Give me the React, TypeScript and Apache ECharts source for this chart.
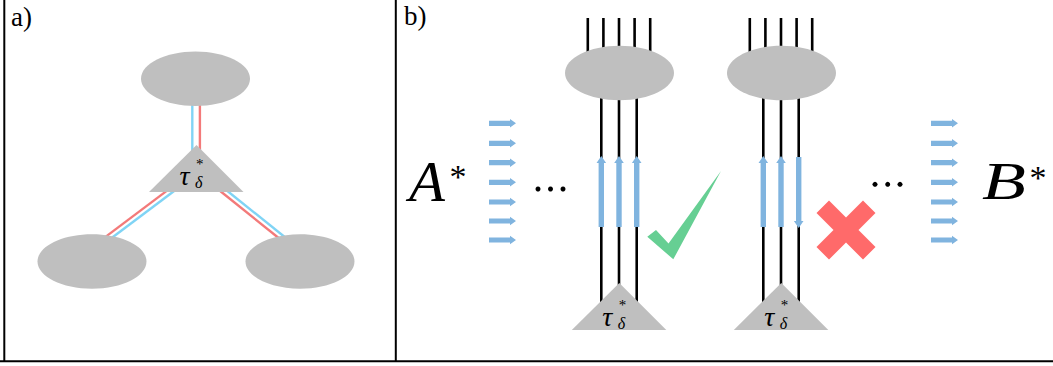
import React, { useEffect, useRef } from "react";
import * as echarts from "echarts";

// ---- diagram content ----
const panelLabels = ["a)", "b)"];
const sideLabels = ["A", "B"];
const columnArrowDirections = [
  ["up", "up", "up"],
  ["up", "up", "down"],
];
const columnVerdicts = ["valid", "invalid"];
const flowArrowRows = [0, 1, 2, 3, 4, 5, 6];
const topLegCount = 5;
const bottomLegCount = 3;

// ---- styles ----
const SERIF = '"Liberation Serif", "DejaVu Serif", serif';
const GREY = "#bfbfbf";
const ARROW = "#80b4df";
const EDGE_BLUE = "#80d4f5";
const EDGE_RED = "#f37a7a";
const CHECK = "#66cf93";
const CROSS = "#ff6a6a";

function txt(text: string, x: number, y: number, size: number, italic: boolean, sx = 1) {
  return {
    type: "text",
    z: 20,
    x,
    y,
    scaleX: sx,
    style: {
      text,
      x: 0,
      y: 0,
      fill: "#000",
      font: `${italic ? "italic " : ""}${size}px ${SERIF}`,
      fontSize: size,
      fontFamily: SERIF,
      fontStyle: italic ? "italic" : "normal",
      align: "left",
      verticalAlign: "middle",
      textAlign: "left",
      textVerticalAlign: "middle",
    },
  };
}

function line(x1: number, y1: number, x2: number, y2: number, stroke: string, w: number, z = 1) {
  return { type: "line", z, shape: { x1, y1, x2, y2 }, style: { stroke, lineWidth: w } };
}

function poly(points: number[][], fill: string, z = 5) {
  return { type: "polygon", z, shape: { points }, style: { fill } };
}

function ellipse(cx: number, cy: number) {
  return { type: "ellipse", z: 3, shape: { cx, cy, rx: 54.5, ry: 27.2 }, style: { fill: GREY } };
}

function triangle(ax: number, ay: number) {
  return poly(
    [
      [ax, ay],
      [ax + 47, ay + 47],
      [ax - 47.5, ay + 47],
    ],
    GREY,
    3
  );
}

// τ with superscript * and subscript δ
function tau(ax: number, ay: number, dy: number) {
  return [
    txt("τ", ax - 17, ay + 30 + dy, 28, true),
    txt("δ", ax - 1.5, ay + 37 + dy, 16, true),
    txt("*", ax - 0.5, ay + 18.5 + dy, 15, false),
  ];
}

function vArrow(x: number, dir: string) {
  const s = 2.7;
  const h = 4.8;
  if (dir === "up") {
    return poly(
      [
        [x - s, 227],
        [x - s, 163],
        [x - h, 163],
        [x, 156],
        [x + h, 163],
        [x + s, 163],
        [x + s, 227],
      ],
      ARROW,
      6
    );
  }
  return poly(
    [
      [x - s, 157],
      [x - s, 221],
      [x - h, 221],
      [x, 228],
      [x + h, 221],
      [x + s, 221],
      [x + s, 157],
    ],
    ARROW,
    6
  );
}

function hArrow(x0: number, y: number) {
  const s = 2.6;
  const h = 4.2;
  return poly(
    [
      [x0, y - s],
      [x0 + 21, y - s],
      [x0 + 21, y - h],
      [x0 + 27, y],
      [x0 + 21, y + h],
      [x0 + 21, y + s],
      [x0, y + s],
    ],
    ARROW,
    6
  );
}

function offsetLine(p1: number[], p2: number[], n: number[], d: number, color: string) {
  return line(p1[0] + n[0] * d, p1[1] + n[1] * d, p2[0] + n[0] * d, p2[1] + n[1] * d, color, 2.4, 1);
}

function buildElements() {
  const els: any[] = [];
  // frame
  els.push(line(4.3, 0, 4.3, 361.5, "#000", 2, 30));
  els.push(line(395.8, 0, 395.8, 361.5, "#000", 2, 30));
  els.push(line(0, 361.3, 1053, 361.3, "#000", 2, 30));

  // panel labels
  els.push(txt(panelLabels[0], 11, 17, 27, false));
  els.push(txt(panelLabels[1], 404, 16, 27, false));

  // ---- panel a ----
  els.push(ellipse(195.5, 78.8));
  els.push(ellipse(92, 261.5));
  els.push(ellipse(300, 261.5));
  els.push(line(192.3, 90, 192.3, 170, EDGE_BLUE, 2.4));
  els.push(line(199.9, 90, 199.9, 170, EDGE_RED, 2.4));
  // left branch
  {
    const p1 = [175.4, 187.2];
    const p2 = [100.9, 243.2];
    const n = [-0.601, -0.799];
    els.push(offsetLine(p1, p2, n, 2.3, EDGE_RED));
    els.push(offsetLine(p1, p2, n, -2.3, EDGE_BLUE));
  }
  // right branch
  {
    const p1 = [218.8, 187];
    const p2 = [290.4, 244.5];
    const n = [0.627, -0.78];
    els.push(offsetLine(p1, p2, n, 2.3, EDGE_BLUE));
    els.push(offsetLine(p1, p2, n, -2.3, EDGE_RED));
  }
  els.push(triangle(196.5, 145));
  els.push(...tau(196.5, 145, 0));

  // ---- panel b ----
  const colX = [619, 781];
  colX.forEach((cx, ci) => {
    els.push(ellipse(cx + 0.5, 73));
    for (let i = 0; i < topLegCount; i++) {
      const x = cx + (i - (topLegCount - 1) / 2) * 15.6;
      els.push(line(x, 18, x, 73, "#000", 2.6, 1));
    }
    for (let i = 0; i < bottomLegCount; i++) {
      const x = cx + (i - (bottomLegCount - 1) / 2) * 17.7;
      els.push(line(x, 73, x, 320, "#000", 2.6, 1));
      els.push(vArrow(x, columnArrowDirections[ci][i]));
    }
    els.push(triangle(cx + 0.3, 283));
    els.push(...tau(cx + 0.3, 283, 3.5));

    if (columnVerdicts[ci] === "valid") {
      els.push(
        poly(
          [
            [647.3, 236.7],
            [656, 230],
            [668.5, 243.5],
            [721, 171],
            [673.3, 259.3],
          ],
          CHECK
        )
      );
    } else {
      const a = 29.5;
      const k = 12.5;
      const x = 846;
      const y = 230;
      els.push(
        poly(
          [
            [x - a, y - a + k],
            [x - a + k, y - a],
            [x, y - k],
            [x + a - k, y - a],
            [x + a, y - a + k],
            [x + k, y],
            [x + a, y + a - k],
            [x + a - k, y + a],
            [x, y + k],
            [x - a + k, y + a],
            [x - a, y + a - k],
            [x - k, y],
          ],
          CROSS
        )
      );
    }
  });

  // flow arrows and labels
  const rowY = [123.3, 143.3, 162.7, 182.3, 202, 221, 240];
  flowArrowRows.forEach((r) => {
    els.push(hArrow(489, rowY[r]));
    els.push(hArrow(931, rowY[r]));
  });
  [538, 550.5, 563].forEach((x) =>
    els.push({ type: "circle", z: 6, shape: { cx: x, cy: 189, r: 2.5 }, style: { fill: "#000" } })
  );
  [875, 887.7, 900].forEach((x) =>
    els.push({ type: "circle", z: 6, shape: { cx: x, cy: 184.3, r: 2.5 }, style: { fill: "#000" } })
  );

  els.push(txt(sideLabels[0], 409, 182, 56, true, 1.05));
  els.push(txt("*", 449.5, 176, 34, false));
  els.push(txt(sideLabels[1], 982, 182, 52, true, 1.38));
  els.push(txt("*", 1029.5, 177, 34, false));

  return els;
}

export default function App() {
  const ref = useRef<HTMLDivElement>(null);
  useEffect(() => {
    document.body.style.margin = "0";
    const chart = echarts.init(ref.current!, undefined, { renderer: "svg" });
    chart.setOption({
      animation: false,
      backgroundColor: "#fff",
      graphic: { elements: buildElements() },
    });
    return () => chart.dispose();
  }, []);
  return (
    <div
      ref={ref}
      style={{ width: 1053, height: 366, position: "absolute", left: 0, top: 0, background: "#fff" }}
    />
  );
}
